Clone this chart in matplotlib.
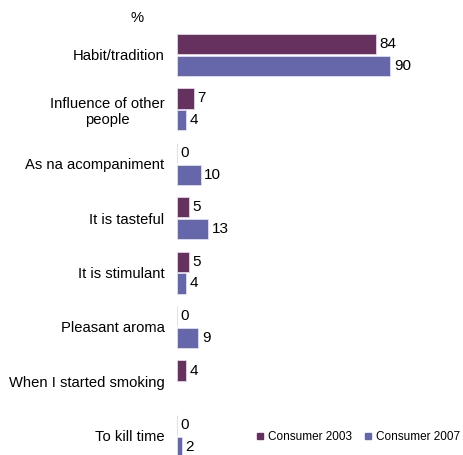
import matplotlib.pyplot as plt
import numpy as np
from matplotlib.lines import Line2D

plt.rcParams['font.family'] = ['Liberation Sans', 'DejaVu Sans']

categories = ['Habit/tradition', 'Influence of other\npeople', 'As na acompaniment',
              'It is tasteful', 'It is stimulant', 'Pleasant aroma',
              'When I started smoking', 'To kill time']
consumer_2003 = [84, 7, 0, 5, 5, 0, 4, 0]
consumer_2007 = [90, 4, 10, 13, 4, 9, None, 2]

c03 = '#66305f'
c07 = '#6666aa'

fig = plt.figure(figsize=(4.64, 4.55), dpi=100)
ax = fig.add_axes([177 / 464, -0.0176, 0.511, 0.9566])

y = np.arange(len(categories))
h = 0.37
off = 0.2

for i, (a, b) in enumerate(zip(consumer_2003, consumer_2007)):
    if a is not None:
        ax.barh(y[i] - off, a, height=h, color=c03, edgecolor='#e0d8e8', linewidth=0.6)
        ax.text(a + 1.5, y[i] - off, str(a), va='center', ha='left', fontsize=11)
    if b is not None:
        ax.barh(y[i] + off, b, height=h, color=c07, edgecolor='#e0e0f0', linewidth=0.6)
        ax.text(b + 1.5, y[i] + off, str(b), va='center', ha='left', fontsize=11)

ax.set_xlim(0, 100)
ax.set_ylim(7.5, -0.5)
ax.set_yticks(y)
ax.set_yticklabels(categories, fontsize=10.6, ha='right', multialignment='center')
ax.tick_params(axis='y', length=0, pad=9)
ax.set_xticks([])
for s in ax.spines.values():
    s.set_visible(False)

fig.text(137 / 464, 1 - 18 / 455, '%', ha='center', va='center', fontsize=10.6)

handles = [Line2D([], [], marker='s', linestyle='none', color=c03, markersize=4.5),
           Line2D([], [], marker='s', linestyle='none', color=c07, markersize=4.5)]
fig.legend(handles, ['Consumer 2003', 'Consumer 2007'], loc='center left',
           bbox_to_anchor=(257 / 464, 1 - 437 / 455), ncol=2, frameon=False,
           fontsize=8.5, handlelength=0.5, handletextpad=0.45, columnspacing=1.1,
           borderpad=0, borderaxespad=0)

fig.savefig('out.png', dpi=100)
